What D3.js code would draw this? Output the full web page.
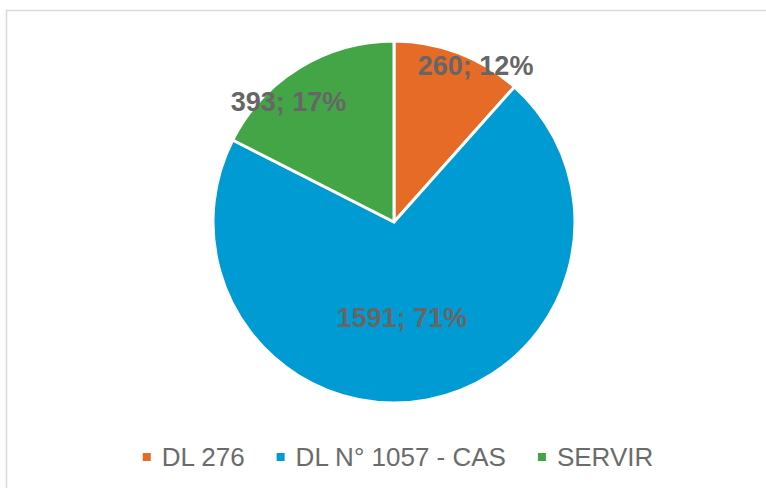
<!DOCTYPE html>
<html>
<head>
<meta charset="utf-8">
<script src="https://cdn.jsdelivr.net/npm/d3@7"></script>
<style>
  body { margin: 0; background: #fff; }
  svg { display: block; }
</style>
</head>
<body>
<div id="chart"></div>
<script>
// data
var categories = ["DL 276", "DL N° 1057 - CAS", "SERVIR"];
var counts = [260, 1591, 393];
var percents = [12, 71, 17];
var colors = ["#E66B27", "#009BD3", "#44A547"];

// label placement tweaks (angle shift in degrees, distance from centre)
var labelShift = [6.6, 5.9, -9.7];
var labelDist = [177, 96, 160];

var width = 766,
  height = 488,
  cx = 394,
  cy = 222,
  radius = 181;

var svg = d3
  .select("#chart")
  .append("svg")
  .attr("width", width)
  .attr("height", height);

// chart border
svg
  .append("rect")
  .attr("x", 6.5)
  .attr("y", 10.5)
  .attr("width", width)
  .attr("height", height)
  .attr("fill", "none")
  .attr("stroke", "#d9d9d9")
  .attr("stroke-width", 1.5);

var g = svg.append("g").attr("transform", `translate(${cx}, ${cy})`);

var pie = d3
  .pie()
  .value(function (d) {
    return d;
  })
  .sort(null);

var data_ready = pie(counts);

var arcGenerator = d3.arc().innerRadius(0).outerRadius(radius);

// slices
g.selectAll("path.slice")
  .data(data_ready)
  .enter()
  .append("path")
  .attr("class", "slice")
  .attr("d", arcGenerator)
  .attr("fill", function (d, i) {
    return colors[i];
  })
  .attr("stroke", "#fff")
  .attr("stroke-width", 3)
  .attr("stroke-linejoin", "round");

// slice labels
g.selectAll("text.lbl")
  .data(data_ready)
  .enter()
  .append("text")
  .attr("class", "lbl")
  .text(function (d, i) {
    return counts[i] + "; " + percents[i] + "%";
  })
  .attr("transform", function (d, i) {
    var a = (d.startAngle + d.endAngle) / 2 + (labelShift[i] * Math.PI) / 180;
    var x = Math.sin(a) * labelDist[i];
    var y = -Math.cos(a) * labelDist[i];
    return "translate(" + x + "," + y + ")";
  })
  .attr("dy", "0.36em")
  .style("text-anchor", "middle")
  .style("font-family", "'Liberation Sans', Arial, sans-serif")
  .style("font-weight", "bold")
  .style("font-size", "27px")
  .style("fill", "#666666");

// legend
var legend = svg.append("g");
var items = legend
  .selectAll("g")
  .data(categories)
  .enter()
  .append("g");

items
  .append("rect")
  .attr("width", 8)
  .attr("height", 8)
  .attr("y", -4)
  .attr("fill", function (d, i) {
    return colors[i];
  });

items
  .append("text")
  .attr("x", 19)
  .attr("dy", "0.36em")
  .text(function (d) {
    return d;
  })
  .style("font-family", "'Liberation Sans', Arial, sans-serif")
  .style("font-size", "26px")
  .style("fill", "#6b6b6b");

// lay the legend items out in a centred row
var gap = 32,
  xpos = 0,
  offsets = [];
items.each(function () {
  var w = this.getBBox().width;
  offsets.push(xpos);
  xpos += w + gap;
});
var total = xpos - gap;
var startX = 398 - total / 2;
items.attr("transform", function (d, i) {
  return "translate(" + (startX + offsets[i]) + ", 457)";
});
</script>
</body>
</html>
